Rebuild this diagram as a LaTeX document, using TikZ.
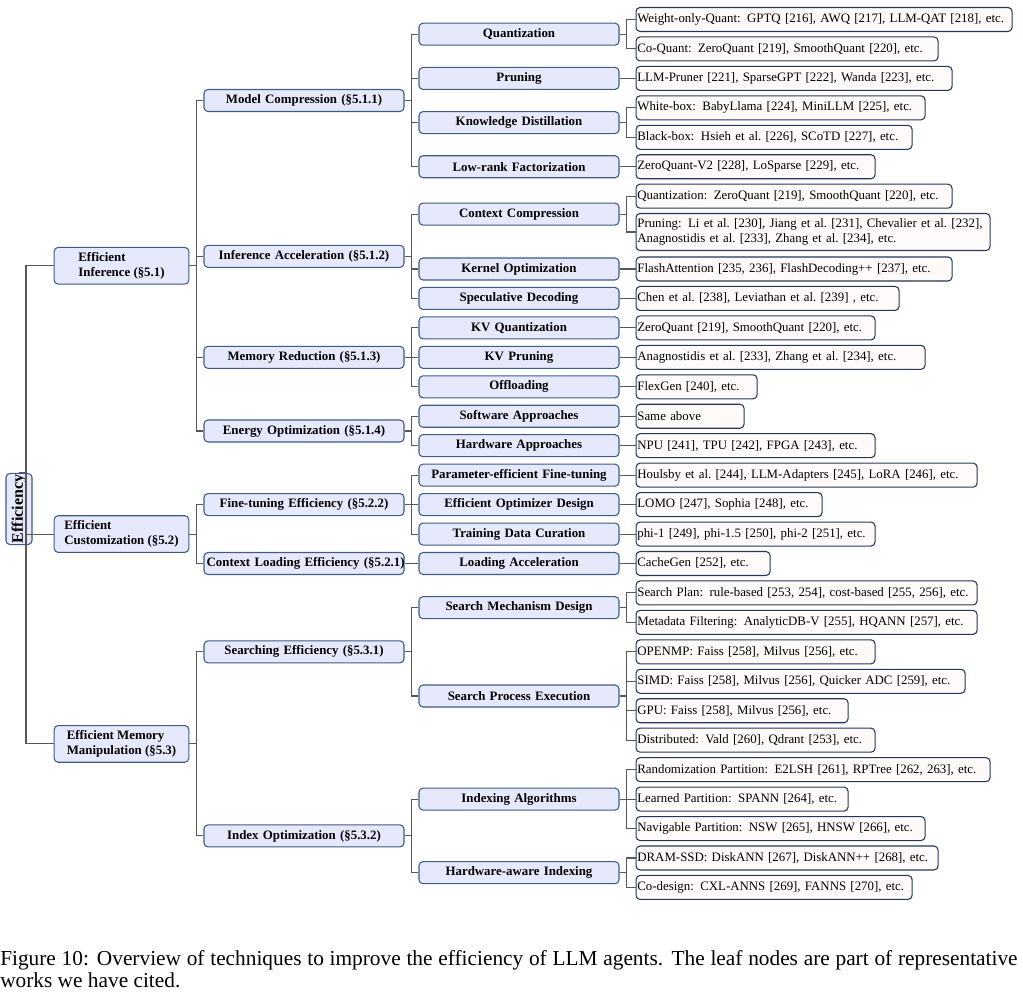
\documentclass[tikz,border=0pt]{standalone}
\usepackage{fontspec}
\setmainfont{Liberation Serif}
\usepackage{tikz}
\definecolor{nodefill}{RGB}{230,232,252}
\definecolor{nodeline}{RGB}{62,92,132}
\definecolor{leaffill}{RGB}{255,250,250}
\definecolor{leafline}{RGB}{36,56,86}
\definecolor{linkgray}{RGB}{88,88,88}
\tikzset{
  rootbox/.style={draw=nodeline, fill=nodefill, rounded corners=3pt, line width=0.8pt, font=\fontsize{12}{14}\selectfont\bfseries, rotate=90, minimum width=53pt, minimum height=19.5pt, inner sep=1pt},
  topbox/.style={draw=nodeline, fill=nodefill, rounded corners=3pt, line width=0.8pt, font=\fontsize{9.65}{11}\selectfont\bfseries, align=left, minimum width=101pt, minimum height=27.5pt, inner sep=1pt},
  midbox/.style={draw=nodeline, fill=nodefill, rounded corners=3pt, line width=0.8pt, font=\fontsize{9.65}{11}\selectfont\bfseries, text width=146pt, align=center, minimum height=16.5pt, inner xsep=2pt, inner ysep=1pt},
  leafbox/.style={draw=leafline, fill=leaffill, rounded corners=3pt, line width=0.8pt, font=\fontsize{9.65}{11}\selectfont, text width=#1, align=left, minimum height=18pt, inner xsep=1pt, inner ysep=4pt, anchor=west,
    execute at begin node={\rightskip=0pt plus 1fil minus 30pt}},
  link/.style={draw=linkgray, line width=0.8pt},
  caption/.style={font=\fontsize{16}{17}\selectfont, text width=763pt, align=justify, inner sep=0pt, anchor=north west}
}
\begin{document}
\begin{tikzpicture}[x=0.75pt, y=-0.75pt]
  \useasboundingbox (0,0) rectangle (1023,994);
  % root and first level
  \node[rootbox] (eff) at (19,509) {Efficiency};
  \node[topbox] (inf) at (121.5,265.75) {Efficient\\Inference (§5.1)};
  \node[topbox] (cust) at (121.5,534.05) {Efficient\\Customization (§5.2)};
  \node[topbox] (mem) at (121.5,743.9) {Efficient Memory\\Manipulation (§5.3)};
  % second level
  \node[midbox] (comp) at (304,100.5) {Model Compression (§5.1.1)};
  \node[midbox] (accel) at (304,256.3) {Inference Acceleration (§5.1.2)};
  \node[midbox] (memred) at (304,357.35) {Memory Reduction (§5.1.3)};
  \node[midbox] (energy) at (304,431) {Energy Optimization (§5.1.4)};
  \node[midbox] (ftune) at (304,504.6) {Fine-tuning Efficiency (§5.2.2)};
  \node[midbox] (ctxload) at (304,563.5) {\mbox{Context Loading Efficiency (§5.2.1)}};
  \node[midbox] (search) at (304,651.85) {Searching Efficiency (§5.3.1)};
  \node[midbox] (index) at (304,835.9) {Index Optimization (§5.3.2)};
  % third level
  \node[midbox] (quant) at (519,34.2) {Quantization};
  \node[midbox] (prune) at (519,78.4) {Pruning};
  \node[midbox] (distill) at (519,122.6) {Knowledge Distillation};
  \node[midbox] (lowrank) at (519,166.75) {Low-rank Factorization};
  \node[midbox] (ctxcomp) at (519,214.1) {Context Compression};
  \node[midbox] (kernel) at (519,269) {Kernel Optimization};
  \node[midbox] (specdec) at (519,298.45) {Speculative Decoding};
  \node[midbox] (kvquant) at (519,327.9) {KV Quantization};
  \node[midbox] (kvprune) at (519,357.35) {KV Pruning};
  \node[midbox] (offload) at (519,386.8) {Offloading};
  \node[midbox] (soft) at (519,416.25) {Software Approaches};
  \node[midbox] (hard) at (519,445.7) {Hardware Approaches};
  \node[midbox] (peft) at (519,475.15) {Parameter-efficient Fine-tuning};
  \node[midbox] (optim) at (519,504.6) {Efficient Optimizer Design};
  \node[midbox] (curate) at (519,534.05) {Training Data Curation};
  \node[midbox] (loadacc) at (519,563.5) {Loading Acceleration};
  \node[midbox] (smech) at (519,607.7) {Search Mechanism Design};
  \node[midbox] (sproc) at (519,696) {Search Process Execution};
  \node[midbox] (idxalg) at (519,799.1) {Indexing Algorithms};
  \node[midbox] (hwidx) at (519,872.7) {Hardware-aware Indexing};
  % leaves
  \node[leafbox=280pt] (wq) at (635.5,19.5) {Weight-only-Quant: GPTQ [216], AWQ [217], LLM-QAT [218], etc.};
  \node[leafbox=224.5pt] (cq) at (635.5,48.95) {Co-Quant: ZeroQuant [219], SmoothQuant [220], etc.};
  \node[leafbox=235pt] (pr) at (635.5,78.4) {LLM-Pruner [221], SparseGPT [222], Wanda [223], etc.};
  \node[leafbox=214.75pt] (wb) at (635.5,107.85) {White-box: BabyLlama [224], MiniLLM [225], etc.};
  \node[leafbox=205pt] (bb) at (635.5,137.3) {Black-box: Hsieh et al.\ [226], SCoTD [227], etc.};
  \node[leafbox=177.25pt] (lr) at (635.5,166.75) {ZeroQuant-V2 [228], LoSparse [229], etc.};
  \node[leafbox=235pt] (ccq) at (635.5,196.2) {Quantization: ZeroQuant [219], SmoothQuant [220], etc.};
  \node[leafbox=263.5pt] (ccp) at (635.5,232) {Pruning: Li et al.\ [230], Jiang et al.\ [231], Chevalier et al.\ [232],\\Anagnostidis et al.\ [233], Zhang et al.\ [234], etc.};
  \node[leafbox=235pt] (ko) at (635.5,269) {FlashAttention [235, 236], FlashDecoding++ [237], etc.};
  \node[leafbox=195.25pt] (sd) at (635.5,298.45) {Chen et al.\ [238], Leviathan et al.\ [239] , etc.};
  \node[leafbox=177.25pt] (kvq) at (635.5,327.9) {ZeroQuant [219], SmoothQuant [220], etc.};
  \node[leafbox=214.75pt] (kvp) at (635.5,357.35) {Anagnostidis et al.\ [233], Zhang et al.\ [234], etc.};
  \node[leafbox=88.75pt] (off) at (635.5,386.8) {FlexGen [240], etc.};
  \node[leafbox=79pt] (sw) at (635.5,416.25) {Same above};
  \node[leafbox=177.25pt] (hw) at (635.5,445.7) {NPU [241], TPU [242], FPGA [243], etc.};
  \node[leafbox=253.75pt] (pe) at (635.5,475.15) {Houlsby et al.\ [244], LLM-Adapters [245], LoRA [246], etc.};
  \node[leafbox=137.5pt] (op) at (635.5,504.6) {LOMO [247], Sophia [248], etc.};
  \node[leafbox=177.25pt] (dc) at (635.5,534.05) {phi-1 [249], phi-1.5 [250], phi-2 [251], etc.};
  \node[leafbox=98.5pt] (la) at (635.5,563.5) {CacheGen [252], etc.};
  \node[leafbox=253.75pt] (sp) at (635.5,592.95) {Search Plan: rule-based [253, 254], cost-based [255, 256], etc.};
  \node[leafbox=253.75pt] (mf) at (635.5,622.4) {Metadata Filtering: AnalyticDB-V [255], HQANN [257], etc.};
  \node[leafbox=177.25pt] (omp) at (635.5,651.85) {OPENMP: Faiss [258], Milvus [256], etc.};
  \node[leafbox=244.75pt] (simd) at (635.5,681.3) {SIMD: Faiss [258], Milvus [256], Quicker ADC [259], etc.};
  \node[leafbox=157pt] (gpu) at (635.5,710.75) {GPU: Faiss [258], Milvus [256], etc.};
  \node[leafbox=177.25pt] (dist) at (635.5,740.2) {Distributed: Vald [260], Qdrant [253], etc.};
  \node[leafbox=263.5pt] (rp) at (635.5,769.65) {Randomization Partition: E2LSH [261], RPTree [262, 263], etc.};
  \node[leafbox=157pt] (lp) at (635.5,799.1) {Learned Partition: SPANN [264], etc.};
  \node[leafbox=214.75pt] (np) at (635.5,828.55) {Navigable Partition: NSW [265], HNSW [266], etc.};
  \node[leafbox=224.5pt] (ds) at (635.5,858) {DRAM-SSD: DiskANN [267], DiskANN++ [268], etc.};
  \node[leafbox=205pt] (cd) at (635.5,887.45) {Co-design: CXL-ANNS [269], FANNS [270], etc.};
  % connectors
  \draw[link] (eff.east) -- ++(7,0) |- (inf.west) (eff.east) ++(7,0) |- (cust.west) (eff.east) ++(7,0) |- (mem.west);
  \draw[link] (inf.east) -- ++(7,0) |- (comp.west) (inf.east) ++(7,0) |- (accel.west) (inf.east) ++(7,0) |- (memred.west) (inf.east) ++(7,0) |- (energy.west);
  \draw[link] (cust.east) -- ++(7,0) |- (ftune.west) (cust.east) ++(7,0) |- (ctxload.west);
  \draw[link] (mem.east) -- ++(7,0) |- (search.west) (mem.east) ++(7,0) |- (index.west);
  \draw[link] (comp.east) -- ++(7,0) |- (quant.west) (comp.east) ++(7,0) |- (prune.west) (comp.east) ++(7,0) |- (distill.west) (comp.east) ++(7,0) |- (lowrank.west);
  \draw[link] (accel.east) -- ++(7,0) |- (ctxcomp.west) (accel.east) ++(7,0) |- (kernel.west) (accel.east) ++(7,0) |- (specdec.west);
  \draw[link] (memred.east) -- ++(7,0) |- (kvquant.west) (memred.east) ++(7,0) |- (kvprune.west) (memred.east) ++(7,0) |- (offload.west);
  \draw[link] (energy.east) -- ++(7,0) |- (soft.west) (energy.east) ++(7,0) |- (hard.west);
  \draw[link] (ftune.east) -- ++(7,0) |- (peft.west) (ftune.east) ++(7,0) |- (optim.west) (ftune.east) ++(7,0) |- (curate.west);
  \draw[link] (ctxload.east) -- (loadacc.west);
  \draw[link] (search.east) -- ++(7,0) |- (smech.west) (search.east) ++(7,0) |- (sproc.west);
  \draw[link] (index.east) -- ++(7,0) |- (idxalg.west) (index.east) ++(7,0) |- (hwidx.west);
  \draw[link] (quant.east) -- ++(7,0) |- (wq.west) (quant.east) ++(7,0) |- (cq.west);
  \draw[link] (prune.east) -- (pr.west);
  \draw[link] (distill.east) -- ++(7,0) |- (wb.west) (distill.east) ++(7,0) |- (bb.west);
  \draw[link] (lowrank.east) -- (lr.west);
  \draw[link] (ctxcomp.east) -- ++(7,0) |- (ccq.west) (ctxcomp.east) ++(7,0) |- (ccp.west);
  \draw[link] (kernel.east) -- (ko.west);
  \draw[link] (specdec.east) -- (sd.west);
  \draw[link] (kvquant.east) -- (kvq.west);
  \draw[link] (kvprune.east) -- (kvp.west);
  \draw[link] (offload.east) -- (off.west);
  \draw[link] (soft.east) -- (sw.west);
  \draw[link] (hard.east) -- (hw.west);
  \draw[link] (peft.east) -- (pe.west);
  \draw[link] (optim.east) -- (op.west);
  \draw[link] (curate.east) -- (dc.west);
  \draw[link] (loadacc.east) -- (la.west);
  \draw[link] (smech.east) -- ++(7,0) |- (sp.west) (smech.east) ++(7,0) |- (mf.west);
  \draw[link] (sproc.east) -- ++(7,0) |- (omp.west) (sproc.east) ++(7,0) |- (simd.west) (sproc.east) ++(7,0) |- (gpu.west) (sproc.east) ++(7,0) |- (dist.west);
  \draw[link] (idxalg.east) -- ++(7,0) |- (rp.west) (idxalg.east) ++(7,0) |- (lp.west) (idxalg.east) ++(7,0) |- (np.west);
  \draw[link] (hwidx.east) -- ++(7,0) |- (ds.west) (hwidx.east) ++(7,0) |- (cd.west);
  % caption
  \node[caption] (cap) at (0,950) {Figure 10: Overview of techniques to improve the efficiency of LLM agents. The leaf nodes are part of representative works we have cited.};
\end{tikzpicture}
\end{document}
